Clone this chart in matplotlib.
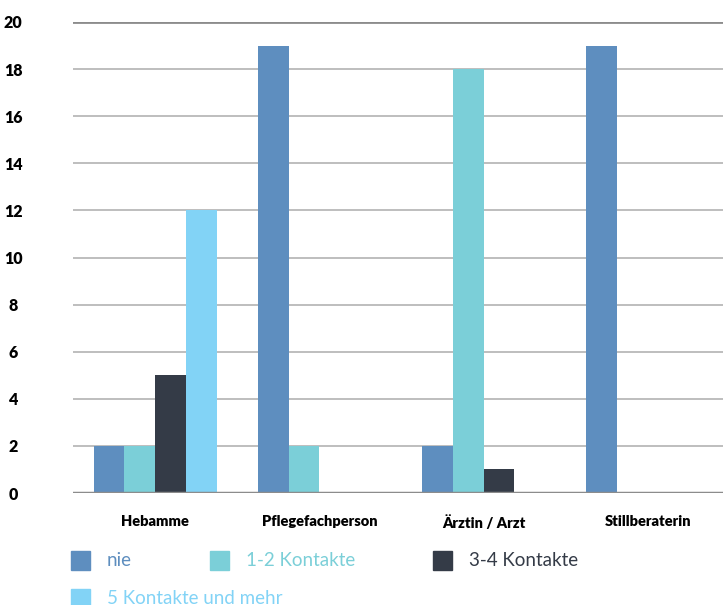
import numpy as np
import matplotlib.pyplot as plt
from matplotlib.patches import Rectangle

# data
categories = ["Hebamme", "Pflegefachperson", "Ärztin / Arzt", "Stillberaterin"]
series_names = ["nie", "1-2 Kontakte", "3-4 Kontakte", "5 Kontakte und mehr"]
nie = [2, 19, 2, 19]
kontakte_1_2 = [2, 2, 18, 0]
kontakte_3_4 = [5, 0, 1, 0]
kontakte_5_plus = [12, 0, 0, 0]
colors = ["#5E8EBF", "#7BCFD8", "#343B47", "#82D3F6"]
yticks = [0, 2, 4, 6, 8, 10, 12, 14, 16, 18, 20]

plt.rcParams['font.family'] = ['Lato', 'DejaVu Sans']

W, H = 723, 605
fig = plt.figure(figsize=(W / 100, H / 100), dpi=100)
# plot area runs a bit past the right edge, as in the original
ax = fig.add_axes([73 / W, 1 - 493 / H, 657 / W, (493 - 22) / H])

x = np.arange(len(categories))
w = 0.1875
all_series = [nie, kontakte_1_2, kontakte_3_4, kontakte_5_plus]
for i, (vals, c) in enumerate(zip(all_series, colors)):
    ax.bar(x + (i - 1.5) * w, vals, width=w, color=c, zorder=3)

ax.set_xlim(-0.5, 3.5)
ax.set_ylim(0, 20)
ax.set_yticks(yticks)
ax.set_yticklabels([str(t) for t in yticks], fontsize=11.5, fontweight='heavy', ha='center')
ax.tick_params(axis='y', length=0, pad=43)
ax.set_xticks(x)
ax.set_xticklabels(categories, fontsize=10.5, fontweight='heavy')
ax.tick_params(axis='x', length=0, pad=16)

for t in yticks[1:-1]:
    ax.axhline(t, color="#B3B3B3", lw=1.2, zorder=1)
ax.axhline(20, color="#8C8C8C", lw=2, zorder=1)
ax.axhline(0, color="#8C8C8C", lw=2.5, zorder=4)
for s in ax.spines.values():
    s.set_visible(False)

# legend drawn by hand: three items on the first row, one on the second
legend_pos = [(71, 560), (210, 560), (433, 560), (71, 598)]
for (px, py), name, c in zip(legend_pos, series_names, colors):
    fig.patches.append(Rectangle((px / W, 1 - (py + 9.5) / H), 19 / W, 19 / H,
                                 transform=fig.transFigure, color=c))
    fig.text((px + 36) / W, 1 - py / H, name, color=c, fontsize=13.5,
             va='center', ha='left')

fig.savefig("out.png", dpi=100)
